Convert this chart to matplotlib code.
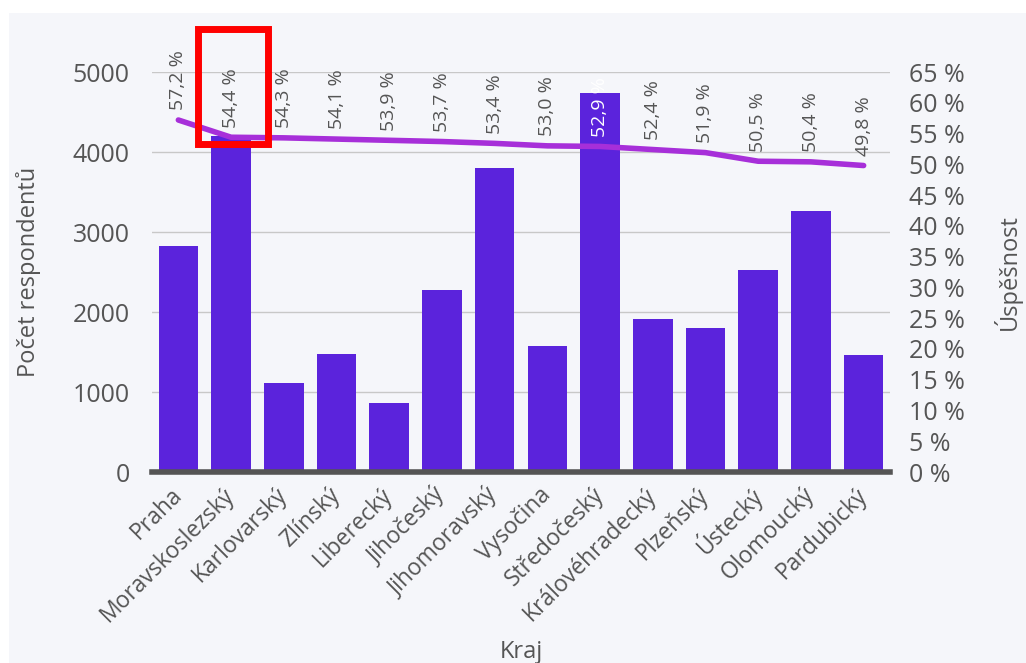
import matplotlib.pyplot as plt
from matplotlib.patches import Rectangle

kraje = ["Praha", "Moravskoslezský", "Karlovarský", "Zlínský", "Liberecký",
         "Jihočeský", "Jihomoravský", "Vysočina", "Středočeský", "Královéhradecký",
         "Plzeňský", "Ústecký", "Olomoucký", "Pardubický"]
respondenti = [2820, 4200, 1110, 1480, 865, 2280, 3800, 1575, 4735, 1915,
               1800, 2525, 3265, 1465]
uspesnost = [57.2, 54.4, 54.3, 54.1, 53.9, 53.7, 53.4, 53.0, 52.9, 52.4,
             51.9, 50.5, 50.4, 49.8]
pct_ticks = list(range(0, 70, 5))

BAR = "#5b23dc"
LINE = "#a72fd9"
BG = "#f5f6fa"
TXT = "#555555"

plt.rcParams["font.family"] = ["Open Sans", "DejaVu Sans"]

fig = plt.figure(figsize=(10.26, 6.63), dpi=100)
fig.patch.set_facecolor("white")
fig.patches.append(Rectangle((9 / 1026, 0), 1, 1 - 13 / 663, transform=fig.transFigure,
                             facecolor=BG, edgecolor="none", zorder=-10))

ax = fig.add_axes([152 / 1026, 1 - 472 / 663, (890 - 152) / 1026, 400 / 663])
ax.set_facecolor(BG)
x = list(range(len(kraje)))
ax.bar(x, respondenti, width=0.75, color=BAR, zorder=2)
ax.set_xlim(-0.5, len(kraje) - 0.5)
ax.set_ylim(0, 5000)
ax.set_yticks([0, 1000, 2000, 3000, 4000, 5000])
ax.grid(axis="y", color="#c8c8c8", linewidth=1, zorder=0)
for s in ax.spines.values():
    s.set_visible(False)
ax.axhline(0, color="#555555", linewidth=4, zorder=3, clip_on=False)
ax.tick_params(axis="both", length=0, labelsize=18, labelcolor=TXT)
ax.tick_params(axis="y", pad=16)
ax.set_xticks(x)
ax.set_xticklabels(kraje, rotation=45, ha="right", va="center", rotation_mode="anchor",
                   fontsize=16.5)
ax.tick_params(axis="x", pad=14)
ax.set_ylabel("Počet respondentů", fontsize=17, color=TXT)
ax.yaxis.set_label_coords(-0.15, 0.5)
ax.set_xlabel("Kraj", fontsize=17, color=TXT)
ax.xaxis.set_label_coords(0.5, -0.42)

ax2 = ax.twinx()
ax2.set_ylim(0, 65)
ax2.set_yticks(pct_ticks)
ax2.set_yticklabels([f"{p} %" for p in pct_ticks])
for s in ax2.spines.values():
    s.set_visible(False)
ax2.tick_params(axis="y", length=0, labelsize=18, labelcolor=TXT, pad=14)
ax2.plot(x, uspesnost, color=LINE, linewidth=4, zorder=4, solid_capstyle="round")
ax2.set_ylabel("Úspěšnost", fontsize=17, color=TXT)
ax2.yaxis.set_label_coords(1.14, 0.5)

for i, v in enumerate(uspesnost):
    c = "white" if kraje[i] == "Středočeský" else TXT
    ax2.annotate(f"{v:.1f} %".replace(".", ","), (i, v), xytext=(0, 7),
                 textcoords="offset points", rotation=90, ha="center", va="bottom",
                 fontsize=14, color=c, zorder=5, annotation_clip=False)

fig.patches.append(Rectangle((198 / 1026, 1 - 144 / 663), 70 / 1026, 115 / 663,
                             transform=fig.transFigure, fill=False, edgecolor="#ff0000",
                             linewidth=5, zorder=20))

fig.savefig("out.png", dpi=100, facecolor=fig.get_facecolor())
